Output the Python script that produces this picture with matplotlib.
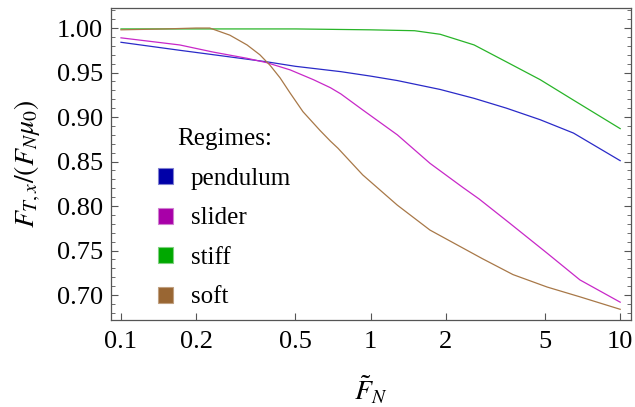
import matplotlib
matplotlib.use("Agg")
import matplotlib.pyplot as plt
from matplotlib.patches import Patch
from matplotlib.ticker import FixedLocator, MultipleLocator, NullLocator, FormatStrFormatter

plt.rcParams['font.family'] = ['Liberation Serif', 'DejaVu Serif']
plt.rcParams['mathtext.fontset'] = 'stix'

# values
pend_x = [0.1, 0.172, 0.25, 0.385, 0.5, 0.76, 1.0, 1.28, 1.9, 2.6, 3.5, 4.78, 6.5, 10.0]
pend_y = [0.984, 0.975, 0.969, 0.962, 0.957, 0.951, 0.946, 0.941, 0.931, 0.921, 0.910, 0.897, 0.882, 0.851]

slider_x = [0.1, 0.172, 0.234, 0.32, 0.385, 0.476, 0.59, 0.69, 0.76, 0.93, 1.28, 1.73, 2.34,
            2.72, 3.6, 5.1, 6.9, 10.0]
slider_y = [0.989, 0.981, 0.973, 0.966, 0.961, 0.953, 0.942, 0.933, 0.926, 0.908, 0.880, 0.848, 0.821,
            0.808, 0.781, 0.747, 0.717, 0.692]

stiff_x = [0.1, 0.5, 1.0, 1.5, 1.9, 2.6, 3.5, 4.78, 6.5, 10.0]
stiff_y = [0.999, 0.999, 0.998, 0.997, 0.993, 0.981, 0.962, 0.942, 0.919, 0.887]

soft_x = [0.1, 0.15, 0.2, 0.227, 0.273, 0.32, 0.36, 0.396, 0.434, 0.476, 0.536, 0.627, 0.69,
          0.74, 0.93, 1.28, 1.73, 2.8, 3.72, 5.1, 6.9, 10.0]
soft_y = [0.998, 0.999, 1.000, 1.000, 0.992, 0.981, 0.970, 0.958, 0.944, 0.927, 0.906, 0.885, 0.873,
          0.865, 0.835, 0.801, 0.773, 0.741, 0.723, 0.709, 0.698, 0.684]

regimes = ["pendulum", "slider", "stiff", "soft"]
line_colors = ["#2a2ac8", "#c828c8", "#28b428", "#a87848"]
box_colors = ["#0000a8", "#a800a8", "#00a800", "#996633"]
box_edges = ["#8080d0", "#d080d0", "#80d080", "#c0a080"]

x_ticks = [0.1, 0.2, 0.5, 1, 2, 5, 10]
x_labels = ["0.1", "0.2", "0.5", "1", "2", "5", "10"]

fig = plt.figure(figsize=(6.35, 4.07), dpi=100)
ax = fig.add_axes([0.1748, 0.2138, 0.8189, 0.7665])

series = [(pend_x, pend_y), (slider_x, slider_y), (stiff_x, stiff_y), (soft_x, soft_y)]
for (xs, ys), c in zip(series, line_colors):
    ax.plot(xs, ys, color=c, lw=0.9)

ax.set_xscale('log')
ax.set_xlim(0.0912, 11.05)
ax.set_ylim(0.672, 1.0225)

ax.xaxis.set_major_locator(FixedLocator(x_ticks))
ax.xaxis.set_minor_locator(NullLocator())
ax.set_xticklabels(x_labels)
ax.yaxis.set_major_locator(MultipleLocator(0.05))
ax.yaxis.set_minor_locator(MultipleLocator(0.01))
ax.yaxis.set_major_formatter(FormatStrFormatter('%.2f'))

ax.tick_params(which='both', direction='in', labelsize=19, colors='#555555', labelcolor='black')
ax.tick_params(axis='y', which='both', right=True)
ax.tick_params(which='major', length=5, width=0.8)
ax.tick_params(which='minor', length=3, width=0.6)
ax.tick_params(axis='x', pad=8)
ax.tick_params(axis='y', pad=6)
for s in ax.spines.values():
    s.set_color('#555555')
    s.set_linewidth(0.9)

ax.set_xlabel(r'$\tilde{F}_N$', fontsize=20, labelpad=15)
ax.set_ylabel(r'$F_{T,x}/(F_N\mu_0)$', fontsize=20, labelpad=10)

handles = [Patch(facecolor=b, edgecolor=e, linewidth=0.8) for b, e in zip(box_colors, box_edges)]
leg = ax.legend(handles, regimes, title="Regimes:", frameon=False, fontsize=18,
                title_fontsize=18, loc='upper left', bbox_to_anchor=(0.057, 0.67),
                handlelength=0.6, handleheight=0.6, handletextpad=0.7,
                labelspacing=0.7, borderpad=0.2)

fig.savefig("out.png", dpi=100)
